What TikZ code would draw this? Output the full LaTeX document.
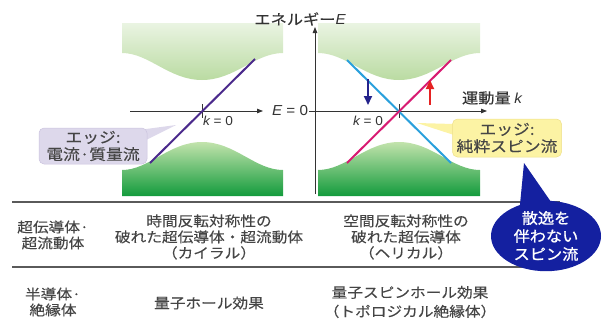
\documentclass[tikz,border=0pt]{standalone}
\usepackage{fontspec}
\setmainfont{Noto Sans CJK JP}[FakeStretch=1.12,FakeBold=0.2]
\newfontfamily\latf{Liberation Sans}[FakeStretch=1.05]
\newfontfamily\bubf{Noto Sans CJK JP}[FakeStretch=1.08,FakeBold=1.0]
\usetikzlibrary{arrows.meta,shapes.geometric}
\definecolor{txt}{HTML}{454545}
\definecolor{axiscol}{HTML}{333333}
\definecolor{rulecol}{HTML}{5A5A5A}
\definecolor{gtopA}{HTML}{EAF4E2}
\definecolor{gbotA}{HTML}{BADBA2}
\definecolor{gtopB}{HTML}{C2E3AC}
\definecolor{gbotB}{HTML}{139B3C}
\definecolor{purp}{HTML}{4B2A8C}
\definecolor{skyb}{HTML}{2AA0DC}
\definecolor{magn}{HTML}{D81B72}
\definecolor{navy}{HTML}{24238C}
\definecolor{redc}{HTML}{E52222}
\definecolor{lav}{HTML}{DDD8EB}
\definecolor{lavd}{HTML}{CBC3DE}
\definecolor{yel}{HTML}{FCF3A4}
\definecolor{yeld}{HTML}{EEE08A}
\definecolor{bub}{HTML}{1420A0}
\begin{document}
\begin{tikzpicture}[x=1pt,y=-1pt,
  tabtext/.style={text=txt,align=center,inner sep=0pt,font=\fontsize{14}{16}\selectfont},
  axlabel/.style={text=axiscol,inner sep=0pt,font=\fontsize{14.5}{16}\selectfont},
  klabel/.style={text=axiscol,inner sep=0pt,font=\fontsize{13}{15}\selectfont},
  axisline/.style={draw=axiscol,line width=0.8pt},
  axisarrow/.style={axisline,-{Triangle[length=6pt,width=4.5pt]}},
  band/.style={line width=2pt},
  spinarrow/.style={line width=2pt,-{Triangle[length=9pt,width=8pt]}},
  lbox/.style={fill=lav,draw=lavd,line width=0.5pt,rounded corners=5pt,align=center,text=txt,
     minimum width=108pt,minimum height=36pt,inner sep=0pt,font=\fontsize{15}{17}\selectfont},
  ybox/.style={fill=yel,draw=yeld,line width=0.5pt,rounded corners=5pt,align=center,text=txt,
     minimum width=109pt,minimum height=38pt,inner sep=0pt,font=\fontsize{15}{17}\selectfont},
  bubble/.style={ellipse,fill=bub,text=white,align=center,minimum width=110pt,minimum height=68pt,
     inner sep=0pt,font=\bubf\fontsize{15}{18}\selectfont},
  rule/.style={draw=rulecol,line width=1.3pt}
]
\useasboundingbox (0,0) rectangle (610,330);

% ---------- green bands, left panel ----------
\shade[top color=gtopA,bottom color=gbotA] (122,23) -- (283,23) -- (283,53)
  .. controls (255,53) and (235,80) .. (202,80)
  .. controls (169,80) and (149,53) .. (122,53) -- cycle;
\shade[top color=gtopB,bottom color=gbotB] (122,196) -- (122,170)
  .. controls (149,170) and (169,142) .. (202,142)
  .. controls (235,142) and (255,170) .. (283,170) -- (283,196) -- cycle;

% ---------- green bands, right panel ----------
\shade[top color=gtopA,bottom color=gbotA] (318,23) -- (480,23) -- (480,53)
  .. controls (452,53) and (432,80) .. (399,80)
  .. controls (366,80) and (346,53) .. (318,53) -- cycle;
\shade[top color=gtopB,bottom color=gbotB] (318,196) -- (318,170)
  .. controls (346,170) and (366,142) .. (399,142)
  .. controls (432,142) and (452,170) .. (480,170) -- (480,196) -- cycle;

% ---------- left panel axes ----------
\coordinate (lax0) at (130,111);
\coordinate (lax1) at (263,111);
\draw[axisarrow] (lax0) -- (lax1);
\coordinate (ltk0) at (202,104);
\coordinate (ltk1) at (202,118);
\draw[axisline] (ltk0) -- (ltk1);

% ---------- right panel axes ----------
\coordinate (rvy0) at (315,194);
\coordinate (rvy1) at (315,27);
\draw[axisarrow] (rvy0) -- (rvy1);
\coordinate (rax0) at (309,111);
\coordinate (rax1) at (487,111);
\draw[axisarrow] (rax0) -- (rax1);
\coordinate (rtk0) at (399,104);
\coordinate (rtk1) at (399,118);
\draw[axisline] (rtk0) -- (rtk1);

% ---------- edge-state lines ----------
\coordinate (p0) at (150,163);
\coordinate (p1) at (255,59);
\draw[band,purp] (p0) -- (p1);
\coordinate (b0) at (347,60);
\coordinate (b1) at (451,163);
\draw[band,skyb] (b0) -- (b1);
\coordinate (m0) at (347,163);
\coordinate (m1) at (451,60);
\draw[band,magn] (m0) -- (m1);

% ---------- spin arrows ----------
\coordinate (na0) at (368,79);
\coordinate (na1) at (368,105);
\draw[spinarrow,navy] (na0) -- (na1);
\coordinate (ra0) at (430,105);
\coordinate (ra1) at (430,80);
\draw[spinarrow,redc] (ra0) -- (ra1);

% ---------- axis labels ----------
\node[axlabel] (elab) at (300,19) {エネルギー{\latf\itshape E}};
\node[axlabel] (e0lab) at (290,111) {{\latf{\itshape E} = 0}};
\node[axlabel] (klab) at (492,98) {運動量 {\latf\itshape k}};
\node[klabel] (k0l) at (218,121) {{\latf{\itshape k} = 0}};
\node[klabel] (k0r) at (368,121) {{\latf{\itshape k} = 0}};

% ---------- callout boxes ----------
\coordinate (ltip) at (176,125);
\fill[lav] (146,129) -- (ltip) -- (146,140) -- cycle;
\node[lbox] (lbox) at (93,146) {エッジ:\\電流·質量流};

\coordinate (ytip) at (417,123);
\fill[yel] (454,124) -- (ytip) -- (454,135) -- cycle;
\node[ybox] (ybox) at (507,138) {エッジ:\\純粋スピン流};

% ---------- table ----------
\coordinate (r1a) at (12,202);
\coordinate (r1b) at (560,202);
\coordinate (r2a) at (12,267);
\coordinate (r2b) at (560,267);
\draw[rule] (r1a) -- (r1b);
\draw[rule] (r2a) -- (r2b);

\node[tabtext] (c11) at (53,235) {超伝導体·\\超流動体};
\node[tabtext] (c12) at (209,237) {時間反転対称性の\\破れた超伝導体・超流動体\\（カイラル）};
\node[tabtext] (c13) at (406,237) {空間反転対称性の\\破れた超伝導体\\（ヘリカル）};
\node[tabtext] (c21) at (53,302) {半導体·\\絶縁体};
\node[tabtext] (c22) at (209,303) {量子ホール効果};
\node[tabtext,font=\fontsize{14}{19}\selectfont] (c23) at (410,302) {量子スピンホール効果\\（トポロジカル絶縁体）};

% ---------- speech bubble ----------
\coordinate (btip) at (524,163);
\fill[bub] (btip) -- (519,215) -- (558,212) -- cycle;
\node[bubble] (bubnode) at (546,236) {散逸を\\伴わない\\スピン流};
\end{tikzpicture}
\end{document}
